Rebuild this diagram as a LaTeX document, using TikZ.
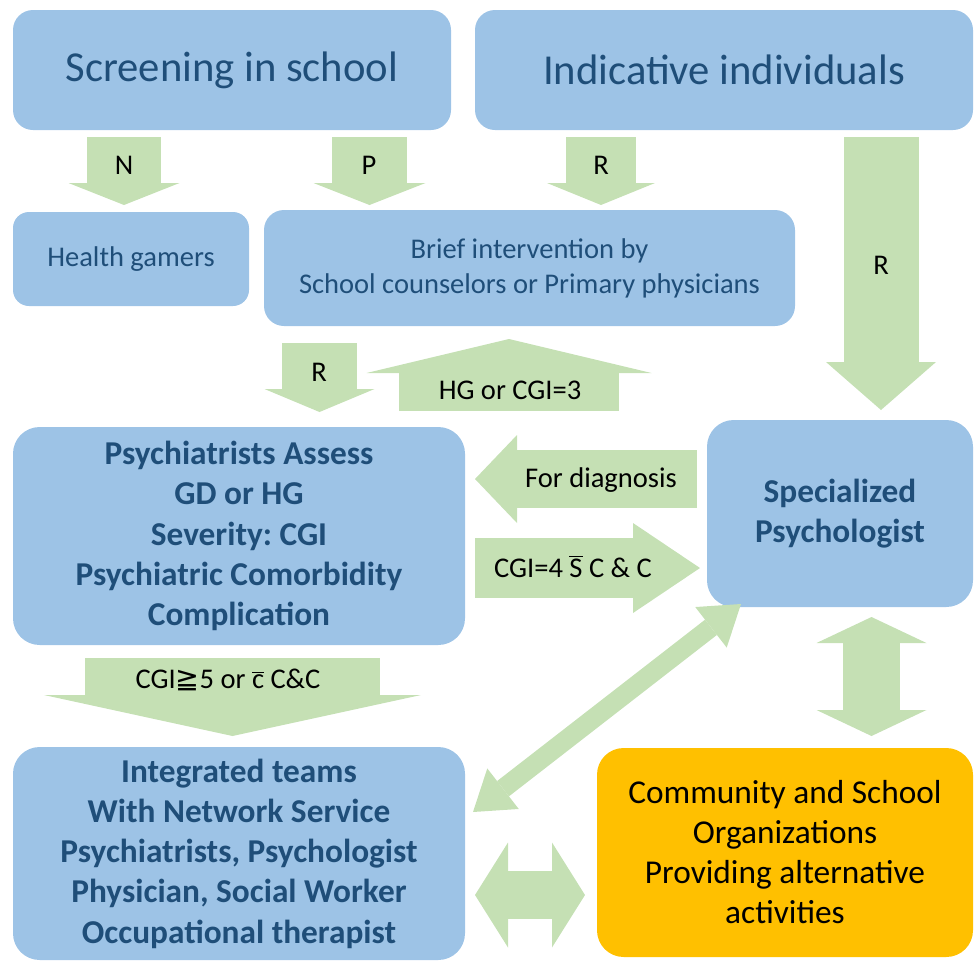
\documentclass[tikz,border=0pt]{standalone}
\usepackage{fontspec}
\setmainfont{Carlito}
\newfontfamily\symfont{DejaVu Sans}
\usetikzlibrary{arrows.meta}
\frenchspacing

\definecolor{boxblue}{RGB}{157,195,230}
\definecolor{boxtext}{RGB}{31,78,121}
\definecolor{arrowgreen}{RGB}{197,224,180}
\definecolor{orgyellow}{RGB}{255,192,0}

\begin{document}
\begin{tikzpicture}[x=0.75pt, y=-0.75pt]
    % Define block styles
    \tikzstyle{box} = [fill=boxblue, text=boxtext, align=center, inner sep=0pt, rounded corners=20pt]
    \tikzstyle{orgbox} = [box, fill=orgyellow, text=black]
    \tikzstyle{bigtext} = [font=\fontsize{32}{38}\selectfont]
    \tikzstyle{plaintext} = [font=\fontsize{21.4}{26.25}\selectfont]
    \tikzstyle{boldtext} = [font=\fontsize{25}{30.2}\selectfont\bfseries]
    \tikzstyle{comtext} = [font=\fontsize{25}{30}\selectfont]
    \tikzstyle{lbl} = [anchor=base, text=black, font=\fontsize{21.4}{26}\selectfont]
    \tikzset{
      barrow/.style n args={3}{draw=arrowgreen, line width=#1,
        -{Triangle[length=#2, width=#3, line width=0pt]}},
      bbarrow/.style n args={3}{draw=arrowgreen, line width=#1,
        {Triangle[length=#2, width=#3, line width=0pt]}-{Triangle[length=#2, width=#3, line width=0pt]}}
    }

    \clip (0,0) rectangle (975,961);

    % Boxes
    \node [box, bigtext, rounded corners=15pt, minimum width=328.5pt, minimum height=90pt] (screen) at (232,70) {Screening in school};
    \node [box, bigtext, rounded corners=15pt, minimum width=373.5pt, minimum height=90pt] (indiv) at (724,70) {Indicative individuals};
    \node [box, plaintext, rounded corners=12pt, minimum width=177pt, minimum height=70.5pt] (health) at (131,259) {Health gamers};
    \node [box, plaintext, rounded corners=15pt, minimum width=398.25pt, minimum height=87pt] (brief) at (529.5,268) {Brief intervention by\\School counselors or Primary physicians};
    \node [box, boldtext, minimum width=339pt, minimum height=163.5pt] (assess) at (239,536) {Psychiatrists Assess\\GD or HG\\Severity: CGI\\Psychiatric Comorbidity\\Complication};
    \node [box, boldtext, minimum width=199.5pt, minimum height=140.25pt] (psychol) at (840,513.5) {Specialized\\Psychologist};
    \node [box, boldtext, minimum width=339pt, minimum height=159.75pt] (teams) at (239,853.5) {Integrated teams\\With Network Service\\Psychiatrists, Psychologist\\Physician, Social Worker\\Occupational therapist};
    \node [orgbox, comtext, minimum width=282pt, minimum height=156.75pt] (org) at (785,852.5) {Community and School\\Organizations\\Providing alternative\\activities};

    % Arrow ends
    \coordinate (nTop) at (124,137);    \coordinate (nEnd) at (124,205);
    \coordinate (pTop) at (369.5,137);  \coordinate (pEnd) at (369.5,205);
    \coordinate (rTop) at (601,137);    \coordinate (rEnd) at (601,205);
    \coordinate (bigTop) at (881,137);  \coordinate (bigEnd) at (881,410);
    \coordinate (refTop) at (319.5,343); \coordinate (refEnd) at (319.5,412);
    \coordinate (hgBot) at (509,411);   \coordinate (hgEnd) at (509,339);
    \coordinate (diagR) at (697,479);   \coordinate (diagL) at (475,479);
    \coordinate (cfL) at (475,568);     \coordinate (cfR) at (700,568);
    \coordinate (sevTop) at (232.5,658); \coordinate (sevEnd) at (232.5,736);
    \coordinate (vTop) at (871.5,617);  \coordinate (vBot) at (871.5,736);
    \coordinate (hL) at (475,895);      \coordinate (hR) at (585,895);
    \coordinate (dLo) at (473,812);     \coordinate (dHi) at (741,604);

    % Connections
    \draw [barrow={55.5pt}{16.5pt}{83.25pt}] (nTop) -- (nEnd);
    \draw [barrow={56.25pt}{16.5pt}{84pt}] (pTop) -- (pEnd);
    \draw [barrow={52.5pt}{16.5pt}{81pt}] (rTop) -- (rEnd);
    \draw [barrow={56.25pt}{36pt}{82.5pt}] (bigTop) -- (bigEnd);
    \draw [barrow={56.25pt}{17.25pt}{82.5pt}] (refTop) -- (refEnd);
    \draw [barrow={165pt}{25.5pt}{213.75pt}] (hgBot) -- (hgEnd);
    \draw [barrow={43.5pt}{31.5pt}{66pt}] (diagR) -- (diagL);
    \draw [barrow={45pt}{50.25pt}{67.5pt}] (cfL) -- (cfR);
    \draw [barrow={221.25pt}{30.75pt}{282.75pt}] (sevTop) -- (sevEnd);
    \draw [bbarrow={42.75pt}{19.5pt}{82.5pt}] (vTop) -- (vBot);
    \draw [bbarrow={36pt}{24.75pt}{78.75pt}] (hL) -- (hR);
    \draw [bbarrow={14.5pt}{28.5pt}{38.5pt}] (dLo) -- (dHi);

    % Labels
    \node [lbl] (lN) at (124,174) {N};
    \node [lbl] (lP) at (369,174) {P};
    \node [lbl] (lR) at (601,174) {R};
    \node [lbl] (lBig) at (881,274) {R};
    \node [lbl] (lRef) at (319,381) {R};
    \node [lbl] (lHG) at (510,399) {HG or CGI=3};
    \node [lbl] (lDiag) at (601,487) {For diagnosis};
    \node [lbl] (lCf) at (573,577) {CGI=4 $\overline{\mbox{S}}$ C \& C};
    \node [lbl] (lSev) at (228,688) {CGI{\symfont ≧}5 or $\overline{\mbox{c}}$ C\&C};
\end{tikzpicture}
\end{document}
